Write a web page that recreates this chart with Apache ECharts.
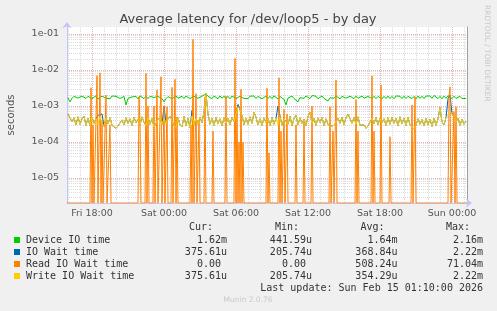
<!DOCTYPE html>
<html><head><meta charset="utf-8">
<script src="https://cdn.jsdelivr.net/npm/echarts@6/dist/echarts.min.js"></script>
<style>html,body{margin:0;padding:0;background:#f0f0f0;overflow:hidden}#c{width:497px;height:311px}</style>
</head><body><div id="c"></div>
<script>
// ---------- data ----------
const chartTitle = 'Average latency for /dev/loop5 - by day';
const yAxisName = 'seconds';
const dayNames = ['Fri', 'Sat', 'Sun'];
const xMajorHours = [18, 24, 30, 36, 42, 48];          // hours since Fri 00:00
const yMajorValues = [1e-5, 1e-4, 1e-3, 1e-2, 1e-1];
const xStartHour = 15 + 55 / 60;                        // Fri 15:55
const xEndHour = 49.25;                                 // Sun 01:15
const yMin = 2.02e-6, yMax = 0.156;
const sampleStartHour = 16;                             // Fri 16:00
const sampleStepMinutes = 10;

// Device IO time (ms), one value per 10 minutes
const deviceIoMs = [
1.70,1.30,1.62,1.85,1.80,1.66,1.58,1.88,1.74,1.62,
1.86,1.92,1.60,1.73,1.90,1.56,1.71,1.87,1.94,1.64,
1.84,1.58,1.89,1.72,1.86,1.91,1.62,1.56,1.84,1.07,
1.62,1.83,1.78,1.60,1.85,1.58,1.90,1.74,1.61,1.87,
1.59,1.85,1.92,1.72,1.56,1.84,1.89,1.60,1.30,1.60,
1.82,1.88,1.59,1.75,1.91,1.63,1.58,1.86,1.61,1.89,
1.74,1.60,1.56,1.87,1.92,1.63,1.79,1.88,1.95,2.15,
1.85,1.66,1.60,1.88,1.73,1.59,1.90,1.64,1.87,1.61,
1.85,1.58,1.89,1.73,1.60,1.52,1.86,1.91,1.62,1.84,
1.59,1.87,1.73,1.90,1.61,1.85,1.88,1.58,1.74,1.89,
1.62,1.86,1.60,1.91,1.74,1.56,1.83,1.88,1.52,1.07,
1.65,1.84,1.89,1.62,1.58,1.30,1.70,1.87,1.63,1.90,
1.85,1.60,1.94,1.73,1.87,1.59,1.74,1.90,1.61,1.56,
1.38,1.70,1.86,1.63,1.89,1.72,1.58,1.85,1.91,1.64,
1.60,1.87,1.73,1.59,1.88,1.64,1.81,1.90,1.65,1.58,
1.83,1.89,1.62,1.86,1.60,1.84,1.91,1.58,1.85,1.62,
1.88,1.61,1.84,1.59,1.90,1.73,1.86,1.60,1.87,1.62,
1.85,1.92,1.60,1.84,1.58,1.89,1.63,1.86,1.61,1.88,
1.74,1.90,1.62,1.96,1.86,1.60,1.85,1.59,1.88,1.63,
1.92,1.74,1.60,1.87,1.62,1.58,1.85,1.61,1.64,1.62
];

// Write IO Wait time (ms), one value per 10 minutes
const writeWaitMs = [
0.60,0.67,0.36,0.47,0.30,0.50,0.31,0.44,0.52,0.29,
0.46,0.28,0.49,0.33,0.45,0.30,0.51,0.34,0.27,0.48,
0.32,0.47,0.29,0.27,0.24,0.28,0.26,0.41,0.30,0.47,
0.33,0.44,0.29,0.48,0.34,0.43,0.30,0.50,0.35,0.28,
0.49,0.31,0.45,0.26,0.25,0.42,0.50,0.30,0.47,0.33,
0.44,0.52,0.55,0.29,0.25,0.47,0.30,0.26,0.51,0.28,
0.45,0.25,0.53,0.29,0.46,0.31,0.49,0.34,0.70,2.22,
0.60,0.31,0.45,0.29,0.48,0.32,0.44,0.28,0.47,0.33,
0.45,0.30,0.49,0.36,0.60,0.95,0.80,0.55,0.30,0.46,
0.31,0.50,0.33,0.67,0.48,0.30,0.44,0.29,0.47,0.34,
0.45,0.28,0.48,0.31,0.46,0.30,0.50,0.29,0.44,0.49,
0.31,0.52,0.28,0.45,0.55,0.30,0.47,0.33,0.43,0.29,
0.51,0.68,0.32,0.45,0.29,0.47,0.35,0.48,0.28,0.44,
0.31,0.27,0.24,0.29,0.26,0.46,0.33,0.49,0.30,0.47,
0.60,0.55,0.33,0.48,0.31,0.50,0.29,0.26,0.30,0.24,
0.28,0.26,0.45,0.32,0.48,0.30,0.46,0.34,0.44,0.29,
0.47,0.31,0.49,0.33,0.45,0.28,0.50,0.32,0.46,0.29,
0.48,0.30,0.27,0.23,0.29,0.44,0.31,0.42,0.28,0.45,
0.30,0.43,0.27,0.46,0.29,0.44,0.90,0.36,0.30,0.47,
0.55,0.70,0.62,0.50,0.36,0.46,0.29,0.43,0.31,0.3756
];

// IO Wait time (ms): equal to write wait except at these sample indexes
const ioWaitDiffIndex = [15, 17, 48, 62, 85, 86, 105, 106, 190, 191];
const ioWaitDiffMs    = [0.55, 0.6, 1.0, 0.75, 1.1, 1.0, 1.0, 0.9, 1.6, 2.0];

// Read IO Wait time: zero except at these 5-minute samples
const readSpikeTimes = ['Fri 17:55','Fri 18:05','Fri 18:25','Fri 18:40','Fri 18:50','Fri 19:10','Fri 19:30',
 'Fri 21:55','Fri 22:00','Fri 22:30','Fri 22:40','Fri 23:10','Fri 23:25','Fri 23:45',
 'Sat 00:00','Sat 00:15','Sat 00:40','Sat 00:55','Sat 01:05','Sat 02:15','Sat 02:25','Sat 02:40','Sat 02:55',
 'Sat 03:25','Sat 04:05','Sat 05:10','Sat 05:55','Sat 06:05','Sat 06:15','Sat 06:25','Sat 06:35',
 'Sat 08:35','Sat 08:45','Sat 09:35','Sat 09:45','Sat 10:00','Sat 10:15','Sat 11:00','Sat 11:40',
 'Sat 12:20','Sat 13:50','Sat 14:05','Sat 14:20','Sat 16:00','Sat 16:10','Sat 17:20','Sat 17:30',
 'Sat 18:05','Sat 18:50','Sat 20:40','Sat 20:55','Sat 23:45','Sat 23:50','Sun 00:10','Sun 00:20'];
const readSpikeMs = [3.2,0.3,7.0,8.3,0.4,2.0,0.3,
 1.8,0.3,8.1,1.0,1.0,2.8,6.5,
 1.0,0.95,3.3,5.5,0.5,0.3,71.04,2.2,0.4,
 1.8,0.2,1.9,21.0,0.9,0.1,2.9,0.1,
 3.1,0.05,6.1,0.2,0.8,0.6,0.3,0.4,
 1.0,0.95,0.2,5.3,1.5,0.2,6.9,0.2,
 3.8,0.14,1.07,1.8,1.9,3.4,0.7,0.95];

const legendNames = ['Device IO time', 'IO Wait time', 'Read IO Wait time', 'Write IO Wait time'];
const legendColors = ['#00cc00', '#0066b3', '#ff8000', '#ffcc00'];
const legendHeaders = ['Cur:', 'Min:', 'Avg:', 'Max:'];
const legendCur = ['1.62m', '375.61u', '0.00 ', '375.61u'];
const legendMin = ['441.59u', '205.74u', '0.00 ', '205.74u'];
const legendAvg = ['1.64m', '368.84u', '508.24u', '354.29u'];
const legendMax = ['2.16m', '2.22m', '71.04m', '2.22m'];
const lastUpdate = 'Last update: Sun Feb 15 01:10:00 2026';
const footer = 'Munin 2.0.76';
const watermark = 'RRDTOOL / TOBI OETIKER';

// ---------- build ----------
const sampleHour = i => sampleStartHour + i * sampleStepMinutes / 60;
const deviceData = deviceIoMs.map((v, i) => [sampleHour(i), v / 1000]);
const writeData = writeWaitMs.map((v, i) => [sampleHour(i), v / 1000]);
const ioWaitMs = writeWaitMs.slice();
ioWaitDiffIndex.forEach((idx, k) => { ioWaitMs[idx] = ioWaitDiffMs[k]; });
const ioWaitData = ioWaitMs.map((v, i) => [sampleHour(i), v / 1000]);

function parseTime(s) {
  const [d, hm] = s.split(' ');
  const [hh, mm] = hm.split(':').map(Number);
  return dayNames.indexOf(d) * 24 + hh + mm / 60;
}
// zero drawn on the floor of the log axis, as rrdtool does
const readData = [];
const spikeSlots = readSpikeTimes.map(t => Math.round(parseTime(t) * 12));
const slotSet = new Set(spikeSlots);
readData.push([xStartHour, yMin]);
spikeSlots.forEach((s, k) => {
  if (!slotSet.has(s - 1)) readData.push([(s - 1) / 12, yMin]);
  readData.push([s / 12, readSpikeMs[k] / 1000]);
  if (!slotSet.has(s + 1)) readData.push([(s + 1) / 12, yMin]);
});
readData.push([xEndHour, yMin]);

const xMinorHours = [];
for (let h = Math.ceil(xStartHour); h <= Math.floor(xEndHour); h++) if (!xMajorHours.includes(h)) xMinorHours.push(h);
const yMinorValues = [];
for (let e = -7; e <= 0; e++) for (let k = 2; k <= 9; k++) {
  const v = +(k * Math.pow(10, e)).toPrecision(3);
  if (v > yMin && v < yMax) yMinorValues.push(v);
}

const minorColor = 'rgba(160,160,160,0.38)';
const majorColor = 'rgba(215,100,100,0.5)';
const axisBlue = '#c4c4ff';
const textColor = '#555';
const pad = n => (n < 10 ? '0' : '') + n;

const chart = echarts.init(document.getElementById('c'), null, { renderer: 'canvas' });
const gridDef = { left: 67, right: 30, top: 27, bottom: 108, show: true, backgroundColor: '#ffffff', borderWidth: 0 };

chart.setOption({
  animation: false,
  backgroundColor: '#f0f0f0',
  grid: gridDef,
  xAxis: [
    { type: 'value', min: xStartHour, max: xEndHour,
      axisLine: { show: true, lineStyle: { color: axisBlue, width: 1 }, symbol: ['none', 'arrow'], symbolSize: [7, 6], symbolOffset: [0, 5] },
      axisTick: { show: false, customValues: xMinorHours },
      axisLabel: { show: false },
      splitLine: { show: true, lineStyle: { color: minorColor, type: [1, 1], width: 1 } } },
    { type: 'value', min: xStartHour, max: xEndHour, position: 'bottom',
      axisLine: { show: false },
      axisTick: { show: false, customValues: xMajorHours },
      axisLabel: { customValues: xMajorHours, margin: 6, color: textColor, fontSize: 9.5, fontFamily: 'DejaVu Sans',
        formatter: v => dayNames[Math.floor(v / 24)] + ' ' + pad(Math.round(v % 24)) + ':00' },
      splitLine: { show: true, lineStyle: { color: majorColor, type: [1, 1], width: 1 } } }
  ],
  yAxis: [
    { type: 'log', min: yMin, max: yMax,
      axisLine: { show: true, lineStyle: { color: axisBlue, width: 1 }, symbol: ['none', 'arrow'], symbolSize: [7, 6], symbolOffset: [0, 5] },
      axisTick: { show: false, customValues: yMinorValues },
      axisLabel: { show: false },
      splitLine: { show: true, lineStyle: { color: minorColor, type: [1, 1], width: 1 } } },
    { type: 'log', min: yMin, max: yMax, position: 'left',
      axisLine: { show: false },
      axisTick: { show: false, customValues: yMajorValues },
      axisLabel: { customValues: yMajorValues, margin: 8, color: textColor, fontSize: 9.5, fontFamily: 'DejaVu Sans',
        formatter: v => { const e = Math.round(Math.log10(v)); return '1e' + (e < 0 ? '-' : '+') + pad(Math.abs(e)); } },
      splitLine: { show: true, lineStyle: { color: majorColor, type: [1, 1], width: 1 } } },
    { type: 'log', min: yMin, max: yMax, position: 'right',
      axisLine: { show: true, lineStyle: { color: '#a0a0a0', width: 1 } },
      axisTick: { show: false }, axisLabel: { show: false }, splitLine: { show: false } }
  ],
  series: [
    { name: legendNames[0], type: 'line', data: deviceData, showSymbol: false, lineStyle: { color: legendColors[0], width: 1 }, itemStyle: { color: legendColors[0] }, z: 3 },
    { name: legendNames[1], type: 'line', data: ioWaitData, showSymbol: false, lineStyle: { color: legendColors[1], width: 1 }, itemStyle: { color: legendColors[1] }, z: 3 },
    { name: legendNames[2], type: 'line', data: readData, showSymbol: false, lineStyle: { color: legendColors[2], width: 1 }, itemStyle: { color: legendColors[2] }, z: 3 },
    { name: legendNames[3], type: 'line', data: writeData, showSymbol: false, lineStyle: { color: legendColors[3], width: 1 }, itemStyle: { color: legendColors[3] }, z: 3 }
  ],
  graphic: (function () {
    const g = [];
    const sans = 'DejaVu Sans', mono = 'DejaVu Sans Mono';
    g.push({ type: 'text', x: 248, y: 20, style: { text: chartTitle, fill: '#444', font: '13px "' + sans + '"', textAlign: 'center', textVerticalAlign: 'middle' } });
    g.push({ type: 'text', x: 11, y: 115, rotation: Math.PI / 2, style: { text: yAxisName, fill: textColor, font: '10px "' + sans + '"', textAlign: 'center', textVerticalAlign: 'middle' } });
    g.push({ type: 'text', x: 487, y: 5, rotation: -Math.PI / 2, style: { text: watermark, fill: '#c8c8c8', font: '7.5px "' + sans + '"', textAlign: 'left', textVerticalAlign: 'middle' } });
    const colRight = [227, 312, 397.5, 483];
    const headRight = [213, 299, 384.5, 470];
    legendHeaders.forEach((h, k) => g.push({ type: 'text', x: headRight[k], y: 227.5, style: { text: h, fill: '#333', font: '10px "' + mono + '"', textAlign: 'right', textVerticalAlign: 'middle' } }));
    const cols = [legendCur, legendMin, legendAvg, legendMax];
    legendNames.forEach((n, r) => {
      const y = 240 + r * 12;
      g.push({ type: 'rect', shape: { x: 14, y: y - 3, width: 6, height: 6 }, style: { fill: legendColors[r] } });
      g.push({ type: 'text', x: 26, y: y, style: { text: n, fill: '#333', font: '10px "' + mono + '"', textAlign: 'left', textVerticalAlign: 'middle' } });
      cols.forEach((c, k) => g.push({ type: 'text', x: colRight[k], y: y, style: { text: c[r], fill: '#333', font: '10px "' + mono + '"', textAlign: 'right', textVerticalAlign: 'middle' } }));
    });
    g.push({ type: 'text', x: 483, y: 288, style: { text: lastUpdate, fill: '#333', font: '10px "' + mono + '"', textAlign: 'right', textVerticalAlign: 'middle' } });
    g.push({ type: 'text', x: 248, y: 300, style: { text: footer, fill: '#c8c8c8', font: '7.5px "' + sans + '"', textAlign: 'center', textVerticalAlign: 'middle' } });
    return g;
  })()
});
</script>
</body></html>
